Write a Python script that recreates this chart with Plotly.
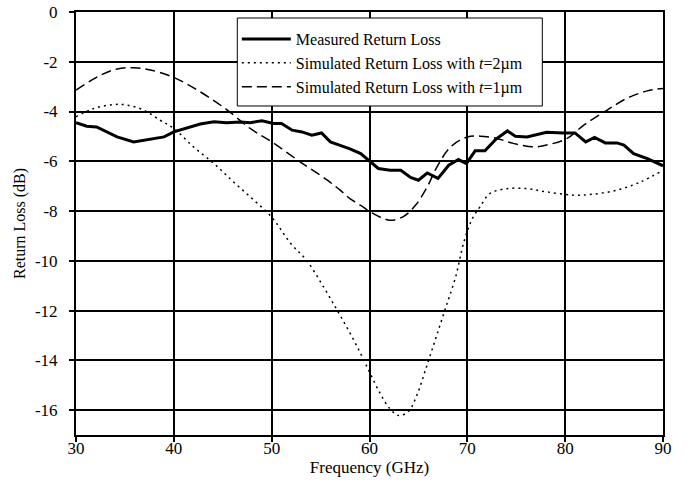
import plotly.graph_objects as go

# Measured return loss
meas_f = [30, 31.1, 32.1, 33.2, 34.2, 35.9, 37.3, 39.0, 40.0, 41.3, 42.7, 44.1, 45.4, 46.8, 47.8, 49.0,
          50.2, 51.0, 52.1, 53.1, 54.1, 55.1, 56.0, 57.0, 58.0, 59.1, 60.1, 60.9, 62.1, 63.2, 64.2, 65.0,
          65.9, 67.0, 68.1, 69.1, 69.9, 70.8, 71.8, 72.9, 74.1, 74.9, 76.1, 77.1, 78.1, 79.8, 81.0, 82.1,
          83.0, 84.1, 85.3, 86.0, 87.0, 88.4, 90.0]
meas_rl = [-4.45, -4.59, -4.62, -4.82, -5.02, -5.22, -5.12, -5.02, -4.82, -4.66, -4.50, -4.41, -4.45, -4.42, -4.45, -4.37,
           -4.48, -4.48, -4.75, -4.82, -4.95, -4.86, -5.22, -5.36, -5.50, -5.69, -6.02, -6.29, -6.36, -6.36, -6.65, -6.76,
           -6.47, -6.69, -6.16, -5.93, -6.09, -5.58, -5.58, -5.12, -4.78, -4.99, -5.02, -4.92, -4.83, -4.86, -4.86, -5.22,
           -5.04, -5.26, -5.26, -5.35, -5.69, -5.89, -6.18]

# Simulated, t = 2 um
sim2_f = [30, 31.8, 33.8, 35.2, 36.9, 38.6, 40.0, 42.0, 44.1, 46.1, 48.2, 50.0, 51.9, 53.6, 55.3, 56.7, 58.0,
          59.1, 60.0, 61.1, 62.1, 63.0, 64.0, 64.9, 65.7, 66.7, 67.7, 68.8, 69.7, 70.6, 71.3, 72.3, 74.0,
          76.1, 78.1, 80.9, 82.9, 85.3, 87.7, 90.0]
sim2_rl = [-4.21, -3.88, -3.72, -3.74, -3.94, -4.35, -4.68, -5.42, -6.09, -6.83, -7.57, -8.24, -9.28, -10.0, -11.05, -11.99, -12.9,
           -13.73, -14.47, -15.34, -15.95, -16.22, -16.04, -15.34, -14.41, -13.2, -11.99, -10.65, -9.17, -8.24, -7.83, -7.30, -7.10,
           -7.10, -7.23, -7.36, -7.32, -7.16, -6.83, -6.36]

# Simulated, t = 1 um
sim1_f = [30, 32.5, 34.2, 35.9, 37.6, 40.0, 42.7, 45.4, 47.8, 50.0, 52.9, 55.7, 57.0, 58.0, 59.1, 60.1, 62.1,
          63.5, 64.7, 65.9, 66.9, 68.3, 70.0, 71.3, 73.0, 74.7, 76.8, 78.5, 80.2, 81.9, 84.3, 86.3, 88.4, 90.0]
sim1_rl = [-3.14, -2.54, -2.29, -2.24, -2.33, -2.63, -3.21, -3.92, -4.68, -5.22, -6.02, -6.76, -7.16, -7.5, -7.77, -8.04, -8.37,
           -8.21, -7.77, -7.03, -6.22, -5.42, -5.02, -4.99, -5.08, -5.28, -5.42, -5.31, -5.08, -4.55, -3.94, -3.47, -3.17, -3.07]

x_ticks = [30, 40, 50, 60, 70, 80, 90]
y_ticks = [0, -2, -4, -6, -8, -10, -12, -14, -16]

FONT = "Liberation Serif"

fig = go.Figure()
fig.add_trace(go.Scatter(x=meas_f, y=meas_rl, mode="lines", name="Measured Return Loss",
                         line=dict(color="black", width=3)))
fig.add_trace(go.Scatter(x=sim2_f, y=sim2_rl, mode="lines", line_shape="spline",
                         name="Simulated Return Loss with <i>t</i>=2µm",
                         line=dict(color="black", width=1.5, dash="2px,4px")))
fig.add_trace(go.Scatter(x=sim1_f, y=sim1_rl, mode="lines", line_shape="spline",
                         name="Simulated Return Loss with <i>t</i>=1µm",
                         line=dict(color="black", width=1.5, dash="10px,5px")))

# legend frame (drawn above the data, under the legend text)
fig.add_shape(type="rect", xref="paper", yref="paper",
              x0=0.2748, x1=0.7944, y0=0.7778, y1=0.9858,
              layer="above", fillcolor="white", line=dict(color="black", width=1))

fig.update_layout(
    width=694, height=488,
    margin=dict(l=76, r=31, t=12, b=53),
    paper_bgcolor="white", plot_bgcolor="white",
    font=dict(family=FONT, size=16, color="black"),
    showlegend=True,
    legend=dict(x=0.274, y=0.976, xanchor="left", yanchor="top",
                bgcolor="rgba(0,0,0,0)", borderwidth=0,
                font=dict(family=FONT, size=16, color="black"),
                tracegroupgap=0, itemwidth=49),
)
fig.update_xaxes(range=[30, 90], tickvals=x_ticks, ticktext=[str(v) for v in x_ticks],
                 showgrid=True, gridcolor="black", gridwidth=2,
                 showline=True, linecolor="black", linewidth=2, mirror=True,
                 ticks="outside", ticklen=5, tickcolor="black", tickwidth=2,
                 ticklabelstandoff=-8, zeroline=False, automargin=False,
                 tickfont=dict(family=FONT, size=17),
                 title=dict(text="Frequency (GHz)", font=dict(family=FONT, size=17), standoff=2))
fig.update_yaxes(range=[-17, 0], tickvals=y_ticks, ticktext=[str(v) for v in y_ticks],
                 showgrid=True, gridcolor="black", gridwidth=2,
                 showline=True, linecolor="black", linewidth=2, mirror=True,
                 ticks="outside", ticklen=5, tickcolor="black", tickwidth=2,
                 ticklabelstandoff=8, zeroline=False, automargin=False,
                 tickfont=dict(family=FONT, size=17),
                 title=dict(text="Return Loss (dB)", font=dict(family=FONT, size=16), standoff=5))

fig.write_html("out.html")
